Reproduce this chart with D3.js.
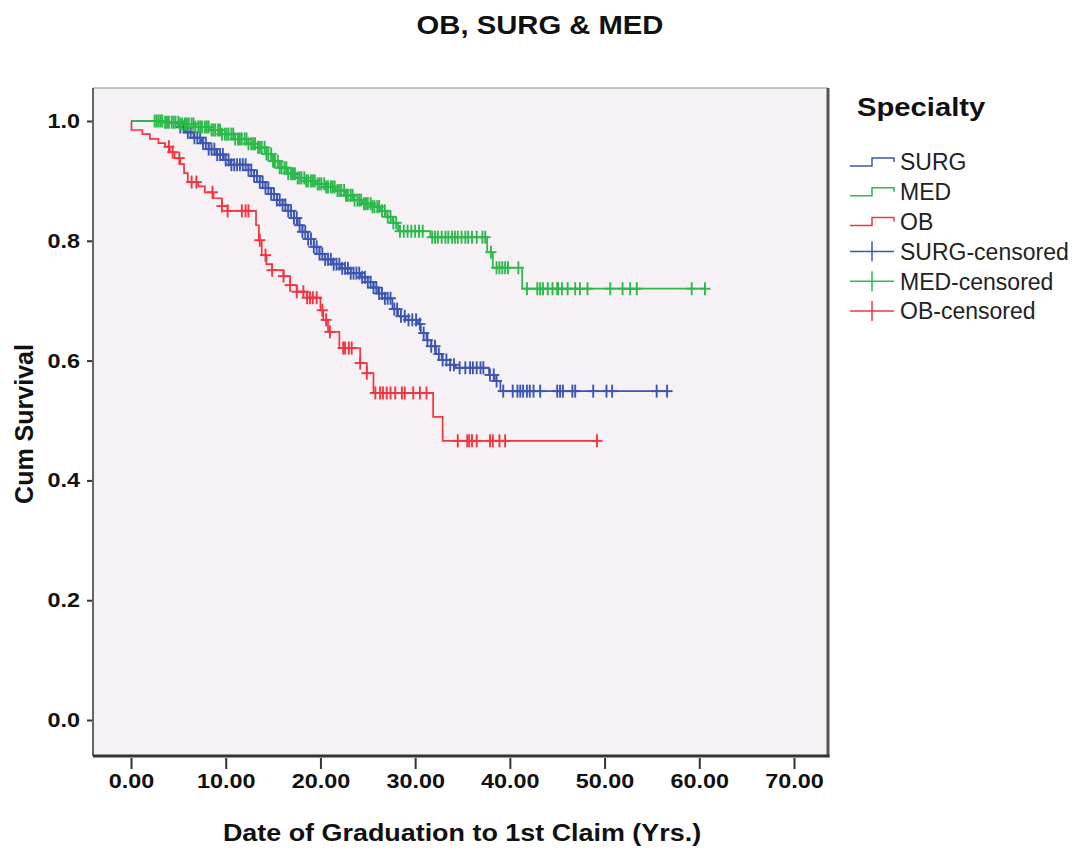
<!DOCTYPE html>
<html>
<head>
<meta charset="utf-8">
<script src="https://cdnjs.cloudflare.com/ajax/libs/d3/7.8.5/d3.min.js"></script>
<style>
  html, body { margin: 0; padding: 0; background: #ffffff; }
  svg { display: block; font-family: "Liberation Sans", Arial, sans-serif; }
</style>
</head>
<body>
<svg id="chart" width="1080" height="850"></svg>
<script>
// ---------------- DATA ----------------
const chartTitle = "OB, SURG & MED";
const xTitle = "Date of Graduation to 1st Claim (Yrs.)";
const yTitle = "Cum Survival";
const legendTitle = "Specialty";
const seriesNames = ["SURG", "MED", "OB"];
const seriesColors = ["#3b56b2", "#2db84b", "#f5343e"];
const xTicks = [0, 10, 20, 30, 40, 50, 60, 70];
const yTicks = [0.0, 0.2, 0.4, 0.6, 0.8, 1.0];

// Kaplan-Meier steps: [time, survival after the event]
const surgSteps = [[4.0,0.997],[5.0,0.990],[5.8,0.981],[6.6,0.972],[7.4,0.963],[8.2,0.953],[9.0,0.944],[9.8,0.935],[10.5,0.927],[12.4,0.918],[13.0,0.908],[13.6,0.898],[14.2,0.888],[14.8,0.878],[15.4,0.868],[16.0,0.860],[16.6,0.850],[17.2,0.838],[17.6,0.826],[18.1,0.815],[18.7,0.803],[19.3,0.790],[19.9,0.778],[20.5,0.769],[21.3,0.761],[22.2,0.754],[23.2,0.746],[24.2,0.739],[25.0,0.731],[25.6,0.722],[26.1,0.712],[26.8,0.704],[27.6,0.686],[28.2,0.674],[29.0,0.668],[30.3,0.661],[30.6,0.646],[31.2,0.634],[31.7,0.624],[32.2,0.611],[32.8,0.601],[33.7,0.593],[34.3,0.588],[37.8,0.576],[38.4,0.566],[39.0,0.549]];
const surgCensored = [5.2,5.6,6.0,6.3,6.7,7.0,7.3,7.6,7.9,8.2,8.5,8.8,9.1,9.4,9.7,10.0,10.3,10.6,10.9,11.2,11.5,11.8,12.1,12.4,12.7,13.0,13.3,13.6,13.9,14.2,14.5,14.8,15.1,15.4,15.7,16.0,16.3,16.6,16.9,17.2,17.5,17.8,18.1,18.4,18.7,19.0,19.3,19.6,19.9,20.2,20.5,20.8,21.1,21.4,21.7,22.0,22.3,22.6,22.9,23.2,23.5,23.8,24.1,24.4,24.7,25.0,25.3,25.6,25.9,26.2,26.5,26.8,27.1,27.4,27.8,28.1,28.5,28.9,29.3,29.7,30.1,30.5,30.9,31.3,31.7,32.1,32.5,32.9,33.3,33.7,34.1,34.7,35.3,35.8,36.1,36.5,36.9,37.2,37.9,38.3,38.6,39.3,40.3,40.8,41.1,41.4,41.8,42.1,42.5,43.2,45.0,45.3,45.6,46.6,46.9,48.8,50.2,50.8,55.5,56.6];

const medSteps = [[3.6,0.998],[5.2,0.995],[6.8,0.990],[8.3,0.985],[9.6,0.978],[11.0,0.970],[12.4,0.962],[13.4,0.956],[14.3,0.945],[15.0,0.933],[15.7,0.922],[16.5,0.912],[17.4,0.905],[18.5,0.900],[19.5,0.895],[20.6,0.890],[21.6,0.884],[22.7,0.876],[23.5,0.868],[24.4,0.862],[25.4,0.857],[26.3,0.850],[26.9,0.840],[27.6,0.830],[28.2,0.816],[31.6,0.806],[37.6,0.781],[38.2,0.755],[41.3,0.720]];
const medCensored = [2.5,2.7,2.9,3.1,3.3,3.6,3.8,4.0,4.3,4.5,4.7,5.0,5.2,5.4,5.7,5.9,6.1,6.4,6.6,6.8,7.1,7.3,7.5,7.8,8.0,8.2,8.5,8.7,8.9,9.2,9.4,9.6,9.9,10.1,10.3,10.6,10.8,11.0,11.3,11.5,11.7,12.0,12.2,12.4,12.7,12.9,13.1,13.4,13.6,13.8,14.1,14.3,14.5,14.8,15.0,15.2,15.5,15.7,15.9,16.2,16.4,16.6,16.9,17.1,17.3,17.6,17.8,18.0,18.3,18.5,18.7,19.0,19.2,19.4,19.7,19.9,20.1,20.4,20.6,20.8,21.1,21.3,21.5,21.8,22.0,22.2,22.5,22.7,22.9,23.2,23.4,23.6,23.9,24.1,24.3,24.6,24.8,25.0,25.3,25.5,25.7,26.0,26.2,26.5,26.8,27.1,27.4,27.7,28.0,28.4,28.8,29.2,29.6,30.0,30.4,30.8,31.8,32.1,32.4,32.8,33.2,33.5,33.9,34.2,34.5,34.9,35.3,35.6,36.0,36.5,37.1,37.4,38.0,38.6,38.9,39.2,39.5,39.8,40.9,41.8,42.9,43.2,43.5,44.0,44.5,45.0,45.1,45.5,46.1,46.9,47.4,48.2,50.6,51.9,52.7,53.4,59.2,60.6];

const obSteps = [[0.05,0.985],[1.2,0.978],[2.0,0.970],[2.9,0.963],[3.6,0.957],[4.1,0.948],[4.6,0.938],[5.2,0.928],[5.6,0.913],[6.0,0.898],[7.1,0.891],[7.8,0.881],[8.7,0.871],[9.6,0.858],[10.2,0.850],[13.2,0.826],[13.5,0.801],[13.8,0.776],[14.3,0.761],[14.9,0.751],[16.1,0.741],[16.8,0.726],[17.5,0.715],[18.6,0.705],[20.0,0.684],[20.3,0.668],[20.8,0.648],[22.0,0.621],[24.2,0.596],[24.9,0.579],[25.6,0.546],[31.9,0.506],[32.9,0.466]];
const obCensored = [4.0,4.4,5.1,6.4,6.9,8.6,9.6,10.2,11.7,12.1,12.4,13.6,14.2,14.9,16.1,16.8,17.5,18.2,18.6,18.9,19.2,19.6,20.2,20.6,21.0,22.4,22.6,23.0,23.3,24.2,24.9,25.8,26.3,26.6,27.0,27.4,27.9,28.6,28.9,29.8,30.5,31.2,34.5,35.5,35.7,36.0,36.5,37.9,38.2,38.9,39.5,49.2];

// ---------------- LAYOUT ----------------
const svg = d3.select("#chart");
const frame = { left: 93, right: 828, top: 88, bottom: 756 };
const x = d3.scaleLinear().domain([0, 70]).range([131, 794]);
const y = d3.scaleLinear().domain([0, 1]).range([720, 121]);
const SX = 1.17; // horizontal stretch of bold text in the reference

function stretchedText(parent, tx, ty, str, opts) {
  const g = parent.append("g").attr("transform", `translate(${tx},${ty}) scale(${opts.sx || 1},1)`);
  return g.append("text")
    .attr("text-anchor", opts.anchor || "start")
    .attr("font-size", opts.size)
    .attr("font-weight", opts.weight || "normal")
    .attr("fill", opts.fill || "#111")
    .text(str);
}

// plot background + frame
svg.append("rect").attr("x", frame.left).attr("y", frame.top)
  .attr("width", frame.right - frame.left).attr("height", frame.bottom - frame.top)
  .attr("fill", "#f5f1f5");
svg.append("line").attr("x1", frame.left).attr("x2", frame.right).attr("y1", frame.top).attr("y2", frame.top)
  .attr("stroke", "#c4c4c4").attr("stroke-width", 2);
svg.append("line").attr("x1", frame.left).attr("x2", frame.left).attr("y1", frame.top).attr("y2", frame.bottom)
  .attr("stroke", "#333").attr("stroke-width", 1.5);
svg.append("line").attr("x1", frame.right).attr("x2", frame.right).attr("y1", frame.top).attr("y2", frame.bottom + 1)
  .attr("stroke", "#555").attr("stroke-width", 3);
svg.append("line").attr("x1", frame.left).attr("x2", frame.right + 1.5).attr("y1", frame.bottom).attr("y2", frame.bottom)
  .attr("stroke", "#333").attr("stroke-width", 3);

// axes
const yAxis = svg.append("g").attr("transform", `translate(${frame.left - 1},0)`)
  .call(d3.axisLeft(y).tickValues(yTicks).tickFormat(d3.format(".1f")).tickSize(5).tickPadding(4));
yAxis.select(".domain").remove();
yAxis.selectAll(".tick line").attr("stroke", "#333").attr("stroke-width", 2);
yAxis.selectAll(".tick text").attr("font-size", 20).attr("font-weight", "bold").attr("fill", "#111")
  .attr("font-family", "Liberation Sans, Arial, sans-serif")
  .attr("x", -12 / SX).attr("transform", `scale(${SX},1)`);

const xAxis = svg.append("g").attr("transform", `translate(0,${frame.bottom + 2})`)
  .call(d3.axisBottom(x).tickValues(xTicks).tickFormat(d3.format(".2f")).tickSize(11).tickPadding(5));
xAxis.select(".domain").remove();
xAxis.selectAll(".tick line").attr("stroke", "#333").attr("stroke-width", 2);
xAxis.selectAll(".tick text").attr("font-size", 20).attr("font-weight", "bold").attr("fill", "#111")
  .attr("font-family", "Liberation Sans, Arial, sans-serif")
  .attr("transform", `scale(${SX},1)`);

// titles
stretchedText(svg, 540, 34, chartTitle, { size: 25, weight: "bold", anchor: "middle", sx: SX });
stretchedText(svg, 462, 841, xTitle, { size: 23, weight: "bold", anchor: "middle", sx: SX });
svg.append("text").attr("transform", "translate(33,424) rotate(-90)")
  .attr("text-anchor", "middle").attr("font-size", 25).attr("font-weight", "bold").attr("fill", "#111")
  .text(yTitle);

// ---------------- CURVES ----------------
function survAt(steps, t) {
  let s = 1;
  for (const [st, sv] of steps) { if (st <= t) s = sv; else break; }
  return s;
}
const series = [
  { name: seriesNames[0], color: seriesColors[0], steps: surgSteps, cens: surgCensored },
  { name: seriesNames[1], color: seriesColors[1], steps: medSteps, cens: medCensored },
  { name: seriesNames[2], color: seriesColors[2], steps: obSteps, cens: obCensored }
];
const line = d3.line().x(d => x(d[0])).y(d => y(d[1])).curve(d3.curveStepAfter);
const plot = svg.append("g");
series.forEach(s => {
  const end = Math.max(d3.max(s.cens), s.steps[s.steps.length - 1][0]);
  const pts = [[0, 1], ...s.steps, [end, s.steps[s.steps.length - 1][1]]];
  plot.append("path").attr("d", line(pts)).attr("fill", "none")
    .attr("stroke", s.color).attr("stroke-width", 1.7);
  const g = plot.append("g").attr("stroke", s.color).attr("stroke-width", 1.9);
  s.cens.forEach(t => {
    const cx = x(t), cy = y(survAt(s.steps, t));
    g.append("line").attr("x1", cx).attr("x2", cx).attr("y1", cy - 6.5).attr("y2", cy + 6.5);
    g.append("line").attr("x1", cx - 5.5).attr("x2", cx + 5.5).attr("y1", cy).attr("y2", cy);
  });
});

// ---------------- LEGEND ----------------
const leg = svg.append("g");
stretchedText(leg, 857, 116, legendTitle, { size: 25, weight: "bold", sx: SX });
const legItems = [];
series.forEach(s => legItems.push({ label: s.name, color: s.color, type: "step" }));
series.forEach(s => legItems.push({ label: s.name + "-censored", color: s.color, type: "cens" }));
legItems.forEach((it, i) => {
  const cy = 162 + i * 29.8;
  if (it.type === "step") {
    leg.append("path").attr("d", `M850,${cy + 4}H872V${cy - 4}H894V${cy}`)
      .attr("fill", "none").attr("stroke", it.color).attr("stroke-width", 1.5);
  } else {
    leg.append("line").attr("x1", 850).attr("x2", 894).attr("y1", cy).attr("y2", cy)
      .attr("stroke", it.color).attr("stroke-width", 1.5);
    leg.append("line").attr("x1", 872).attr("x2", 872).attr("y1", cy - 10).attr("y2", cy + 10)
      .attr("stroke", it.color).attr("stroke-width", 1.5);
  }
  leg.append("text").attr("x", 900).attr("y", cy + 8.3).attr("font-size", 23).attr("fill", "#222")
    .text(it.label);
});
</script>
</body>
</html>
